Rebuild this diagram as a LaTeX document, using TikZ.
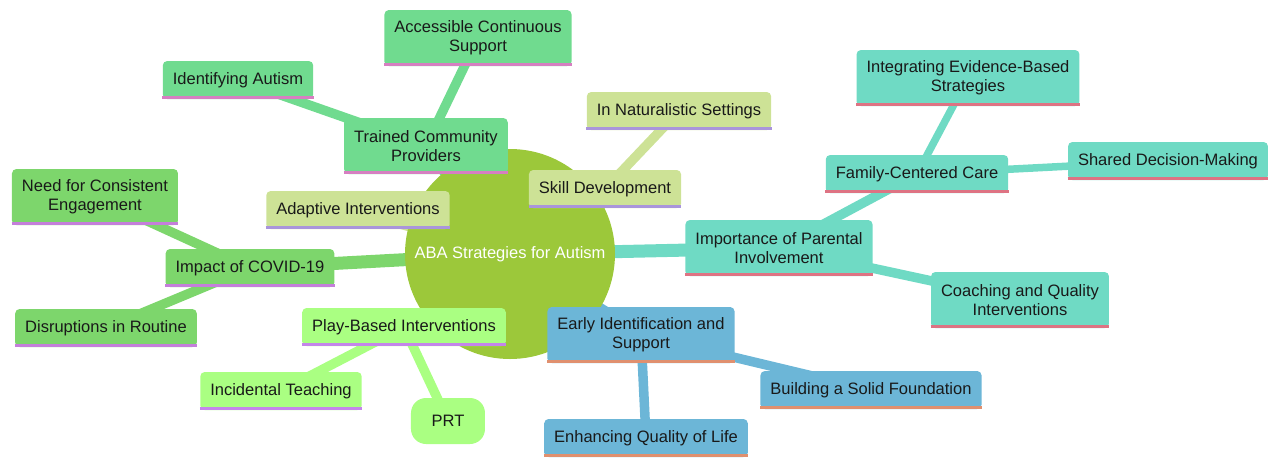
\documentclass[tikz,border=0pt]{standalone}
\usepackage{fontspec}
\setmainfont{Liberation Sans}
\usetikzlibrary{positioning, backgrounds}
\definecolor{rootGreen}{HTML}{9CC83A}
\definecolor{provFill}{HTML}{70DB8F}
\definecolor{provLine}{HTML}{D67FC1}
\definecolor{covidFill}{HTML}{7DD66C}
\definecolor{covidLine}{HTML}{C47FDA}
\definecolor{skillFill}{HTML}{CDE296}
\definecolor{skillLine}{HTML}{A995DB}
\definecolor{playFill}{HTML}{AAFF82}
\definecolor{playLine}{HTML}{C485EA}
\definecolor{earlyFill}{HTML}{6CB6D7}
\definecolor{earlyLine}{HTML}{E0906F}
\definecolor{parentFill}{HTML}{6FDAC4}
\definecolor{parentLine}{HTML}{DE7383}
\newcommand{\mmfont}{\fontsize{9.4}{10.6}\selectfont}

\begin{document}
\begin{tikzpicture}[
    % ── shared styles ───────────────────────────────────────────────
    root node/.style={
        circle, fill=rootGreen, minimum size=4.2cm, inner sep=0pt,
        font=\mmfont, text=white,
    },
    idea/.style={
        rectangle, rounded corners=2.5pt,
        inner xsep=0.2cm, inner ysep=0pt,
        minimum height=0.76cm, align=center,
        font=\mmfont, text=black!90,
    },
    tall/.style={minimum height=1.12cm},
    prov/.style={idea, fill=provFill},
    covid/.style={idea, fill=covidFill},
    skill/.style={idea, fill=skillFill},
    play/.style={idea, fill=playFill},
    early/.style={idea, fill=earlyFill},
    parent/.style={idea, fill=parentFill},
    underline/.style={line width=0.06cm},
    link one/.style={line width=0.26cm},
    link two/.style={line width=0.19cm},
    link three/.style={line width=0.15cm},
]
\useasboundingbox (-10.2,-4.26) rectangle (15.4,5.08);

% =============================================================
%  ROOT
% =============================================================
\node[root node] (root) at (0,0) {ABA Strategies for Autism};

% =============================================================
%  BRANCHES
% =============================================================

% Trained community providers
\node[prov, tall] (tcp) at (-1.68, 2.16) {Trained Community\\Providers};
\node[prov, tall] (acs) at (-0.64, 4.32) {Accessible Continuous\\Support};
\node[prov] (ida) at (-5.44, 3.48) {Identifying Autism};

% Skill development
\node[skill] (skill) at (1.90, 1.30) {Skill Development};
\node[skill] (nat) at (3.38, 2.86) {In Naturalistic Settings};
\node[skill] (adapt) at (-3.04, 0.88) {Adaptive Interventions};

% Impact of COVID-19
\node[covid] (covid) at (-5.20, -0.28) {Impact of COVID-19};
\node[covid, tall] (need) at (-8.30, 1.14) {Need for Consistent\\Engagement};
\node[covid] (disr) at (-8.08, -1.48) {Disruptions in Routine};

% Play-based interventions
\node[play] (play) at (-2.12, -1.46) {Play-Based Interventions};
\node[play] (incid) at (-4.58, -2.74) {Incidental Teaching};
\node[play, rounded corners=0.3cm, minimum width=1.48cm, minimum height=0.92cm]
    (prt) at (-1.24, -3.34) {PRT};

% Early identification
\node[early, tall] (early) at (2.62, -1.62) {Early Identification and\\Support};
\node[early] (build) at (7.22, -2.72) {Building a Solid Foundation};
\node[early] (enh) at (2.72, -3.68) {Enhancing Quality of Life};

% Parental involvement
\node[parent, tall] (par) at (5.38, 0.12) {Importance of Parental\\Involvement};
\node[parent] (fam) at (8.14, 1.60) {Family-Centered Care};
\node[parent, tall] (integ) at (9.16, 3.52) {Integrating Evidence-Based\\Strategies};
\node[parent] (shared) at (13.16, 1.86) {Shared Decision-Making};
\node[parent, tall] (coach) at (10.20, -0.92) {Coaching and Quality\\Interventions};

% Bottom lines of the boxes
\foreach \n/\c in {tcp/provLine, acs/provLine, ida/provLine,
                   skill/skillLine, nat/skillLine, adapt/skillLine,
                   covid/covidLine, need/covidLine, disr/covidLine,
                   play/playLine, incid/playLine,
                   early/earlyLine, build/earlyLine, enh/earlyLine,
                   par/parentLine, fam/parentLine, integ/parentLine,
                   shared/parentLine, coach/parentLine}
    \draw[underline, draw=\c] ([yshift=0.03cm]\n.south west) -- ([yshift=0.03cm]\n.south east);

% =============================================================
%  Connection lines (behind everything)
% =============================================================
\begin{scope}[on background layer]
  \draw[link one, provFill] (root.center) -- (tcp.center);
  \draw[link one, skillFill] (root.center) -- (skill.center);
  \draw[link one, skillFill] (root.center) -- (adapt.center);
  \draw[link one, covidFill] (root.center) -- (covid.center);
  \draw[link one, playFill] (root.center) -- (play.center);
  \draw[link one, earlyFill] (root.center) -- (early.center);
  \draw[link one, parentFill] (root.center) -- (par.center);

  \draw[link two, provFill] (tcp.center) -- (acs.center);
  \draw[link two, provFill] (tcp.center) -- (ida.center);
  \draw[link two, skillFill] (skill.center) -- (nat.center);
  \draw[link two, covidFill] (covid.center) -- (need.center);
  \draw[link two, covidFill] (covid.center) -- (disr.center);
  \draw[link two, playFill] (play.center) -- (incid.center);
  \draw[link two, playFill] (play.center) -- (prt.center);
  \draw[link two, earlyFill] (early.center) -- (build.center);
  \draw[link two, earlyFill] (early.center) -- (enh.center);
  \draw[link two, parentFill] (par.center) -- (fam.center);
  \draw[link two, parentFill] (par.center) -- (coach.center);

  \draw[link three, parentFill] (fam.center) -- (integ.center);
  \draw[link three, parentFill] (fam.center) -- (shared.center);
\end{scope}

\end{tikzpicture}
\end{document}
